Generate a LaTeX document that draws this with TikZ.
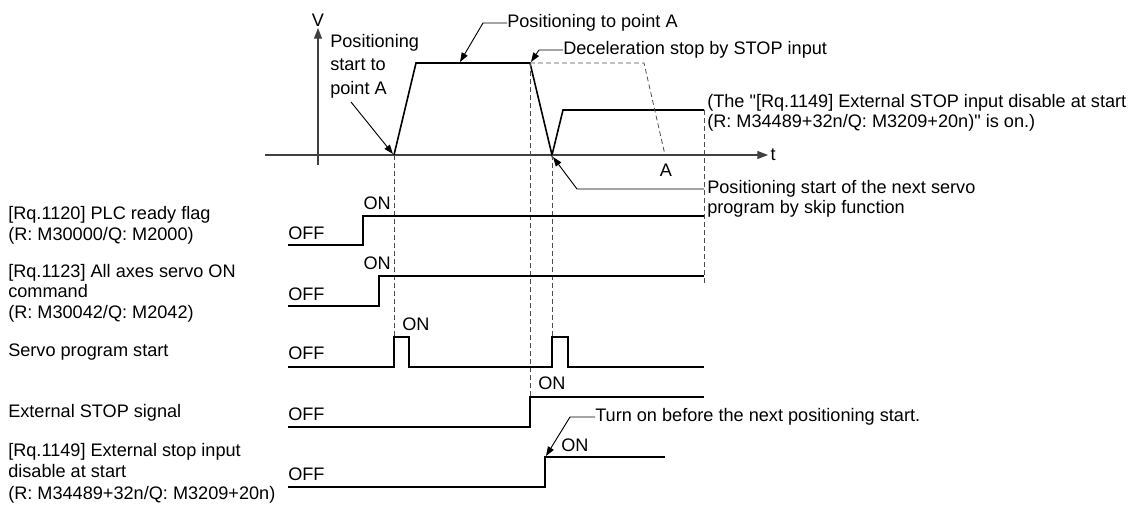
\documentclass[tikz,border=0pt]{standalone}
\usepackage{fontspec}
\setmainfont{Liberation Sans}[Ligatures=TeXOff]
\usetikzlibrary{arrows.meta}

\begin{document}
\begin{tikzpicture}[x=0.75pt, y=-0.75pt,
		wave/.style={line width=1.2pt, line join=miter},
		guide/.style={line width=0.6pt, dash pattern=on 3.6pt off 2.4pt, black!70},
		leader/.style={line width=0.7pt, -{Triangle[length=7pt, width=5pt]}},
		lbl/.style={font=\fontsize{13.6}{15.5}\selectfont, inner sep=0pt, align=left, anchor=west}]

		\useasboundingbox (0,0) rectangle (1145,507);

		% corners of the speed curve
		\coordinate (p0) at (394,155);
		\coordinate (p1) at (416,63);
		\coordinate (p2) at (530,63);
		\coordinate (p3) at (552,155);
		\coordinate (p4) at (563,110);
		\coordinate (p5) at (704,110);
		\coordinate (q1) at (644,63);
		\coordinate (q2) at (665,155);

		% axes
		\draw [line width=0.9pt, black!75, -{Triangle[length=8pt, width=6pt]}] (318,165) -- (318,28)
			node [above, inner sep=1pt, font=\fontsize{13.6}{15}\selectfont, black] (vlab) {V};
		\draw [line width=0.9pt, black!75, -{Triangle[length=8pt, width=6pt]}] (265,155) -- (768,155)
			node [right, inner sep=1.5pt, font=\fontsize{13.6}{15}\selectfont, black] (tlab) {t};

		% speed: run to point A, stop, next program
		\draw [wave] (p0) -- (p1) -- (p2) -- (p3) -- (p4) -- (p5);
		\draw [guide] (p2) -- (q1) -- (q2);
		\node [lbl, anchor=center] (alab) at (666,170) {A};

		% dashed guides down to the signals
		\draw [guide] (p0) -- (394,337);
		\draw [guide] (p2) -- (530,397);
		\draw [guide] (p3) -- (552,337);
		\draw [guide] (p5) -- (704,283);

		% signals
		\draw [wave] (288,245) -- (363,245) -- (363,216) -- (704,216);
		\draw [wave] (288,306) -- (379,306) -- (379,276) -- (704,276);
		\draw [wave] (288,367) -- (394,367) -- (394,337) -- (409,337) -- (409,367)
			-- (552,367) -- (552,337) -- (568,337) -- (568,367) -- (704,367);
		\draw [wave] (288,427) -- (530,427) -- (530,397) -- (704,397);
		\draw [wave] (288,487) -- (545,487) -- (545,457) -- (665,457);

		% signal names
		\node [lbl] (plc) at (8,225) {[Rq.1120] PLC ready flag\\(R: M30000/Q: M2000)};
		\node [lbl] (son) at (8,293) {[Rq.1123] All axes servo ON\\command\\(R: M30042/Q: M2042)};
		\node [lbl] (sps) at (8,352) {Servo program start};
		\node [lbl] (ext) at (8,413) {External STOP signal};
		\node [lbl, font=\fontsize{13.6}{16}\selectfont] (dis) at (8,473) {[Rq.1149] External stop input\\disable at start\\(R: M34489+32n/Q: M3209+20n)};

		% levels
		\node [lbl] (off1) at (288,233) {OFF};
		\node [lbl] (off2) at (288,294) {OFF};
		\node [lbl] (off3) at (288,353) {OFF};
		\node [lbl] (off4) at (288,414) {OFF};
		\node [lbl] (off5) at (288,474) {OFF};
		\node [lbl, anchor=east] (on1) at (391,203) {ON};
		\node [lbl, anchor=east] (on2) at (391,263) {ON};
		\node [lbl] (on3) at (402,324) {ON};
		\node [lbl] (on4) at (538,383) {ON};
		\node [lbl] (on5) at (561,445) {ON};

		% notes
		\node [lbl] (pta) at (507,23) {Positioning to point A};
		\node [lbl] (dec) at (563,50) {Deceleration stop by STOP input};
		\node [lbl, font=\fontsize{13.6}{17.6}\selectfont] (pst) at (330,66) {Positioning\\start to\\point A};
		\node [lbl, font=\fontsize{13.6}{15}\selectfont] (dsa) at (707,113) {(The "[Rq.1149] External STOP input disable at start\\(R: M34489+32n/Q: M3209+20n)" is on.)};
		\node [lbl, font=\fontsize{13.6}{15}\selectfont] (nxt) at (707,199) {Positioning start of the next servo\\program by skip function};
		\node [lbl] (trn) at (595,417) {Turn on before the next positioning start.};

		% leaders
		\coordinate (k1) at (483,23);
		\coordinate (k2) at (539,50);
		\coordinate (k3) at (351,102);
		\coordinate (k4) at (577,189);
		\coordinate (k5) at (570,417);
		\draw [leader] (pta.west) -- (k1) -- (460,62);
		\draw [leader] (dec.west) -- (k2) -- (531,62);
		\draw [leader] (k3) -- (393,154);
		\draw [leader] (704,189) -- (k4) -- (553,157);
		\draw [leader] (trn.west) -- (k5) -- (546,456);
	\end{tikzpicture}
\end{document}
